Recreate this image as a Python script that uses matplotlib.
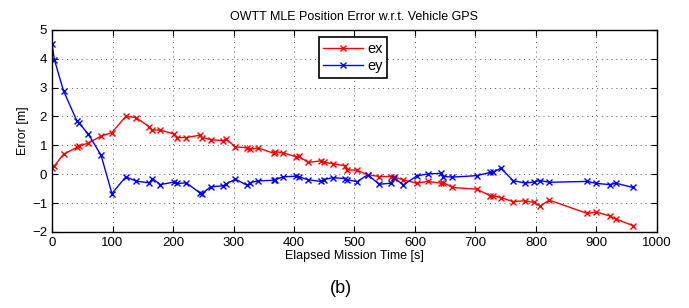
"""OWTT MLE position error plot"""
import matplotlib
matplotlib.use("Agg")
import matplotlib.pyplot as plt

plt.rcParams['font.family'] = ['Liberation Sans', 'DejaVu Sans']

t = [0, 4, 19, 41, 45, 60, 81, 99, 122, 139, 161, 166, 179, 202, 207, 222,
     244, 248, 262, 283, 287, 303, 323, 328, 341, 367, 369, 382, 404, 408,
     423, 444, 449, 464, 484, 488, 504, 522, 541, 561, 566, 581, 603, 621,
     643, 647, 662, 702, 724, 729, 742, 762, 782, 796, 807, 822, 885, 900,
     922, 932, 960]
ex = [0.20, 0.29, 0.69, 0.93, 0.98, 1.08, 1.32, 1.44, 2.01, 1.96, 1.64, 1.53,
      1.53, 1.39, 1.27, 1.27, 1.35, 1.27, 1.20, 1.16, 1.23, 0.95, 0.91, 0.87,
      0.91, 0.72, 0.78, 0.74, 0.60, 0.62, 0.41, 0.46, 0.41, 0.37, 0.29, 0.15,
      0.14, -0.02, -0.08, -0.08, -0.10, -0.20, -0.31, -0.25, -0.31, -0.29,
      -0.46, -0.52, -0.74, -0.74, -0.81, -0.95, -0.92, -0.98, -1.10, -0.90,
      -1.36, -1.31, -1.45, -1.55, -1.78]
ey = [4.51, 3.96, 2.89, 1.85, 1.76, 1.39, 0.66, -0.67, -0.09, -0.24, -0.30,
      -0.15, -0.36, -0.27, -0.32, -0.30, -0.64, -0.67, -0.44, -0.40, -0.35,
      -0.17, -0.39, -0.29, -0.23, -0.21, -0.19, -0.09, -0.07, -0.09, -0.19,
      -0.25, -0.19, -0.12, -0.15, -0.19, -0.26, -0.02, -0.35, -0.31, -0.14,
      -0.37, -0.06, 0.01, 0.03, -0.08, -0.10, -0.05, 0.06, 0.06, 0.21, -0.22,
      -0.31, -0.27, -0.22, -0.28, -0.25, -0.32, -0.36, -0.31, -0.46]

fig = plt.figure(figsize=(6.89, 3.08), dpi=100)
ax = fig.add_axes([0.0755, 0.247, 0.878, 0.656])

ax.plot(t, ex, color='red', marker='x', markersize=5, linewidth=1, label='ex')
ax.plot(t, ey, color='blue', marker='x', markersize=5, linewidth=1, label='ey')

ax.set_xlim(0, 1000)
ax.set_ylim(-2, 5)
ax.set_xticks(range(0, 1001, 100))
ax.set_yticks(range(-2, 6))
ax.grid(True, linestyle=(0, (1, 4)), color='#555555', linewidth=0.7)
ax.tick_params(direction='in', top=True, right=True, labelsize=9.5, length=4)
for s in ax.spines.values():
    s.set_linewidth(1)

ax.set_title('OWTT MLE Position Error w.r.t. Vehicle GPS', fontsize=9, pad=7)
ax.set_xlabel('Elapsed Mission Time [s]', fontsize=9, labelpad=1)
ax.set_ylabel('Error [m]', fontsize=9, labelpad=2)

leg = ax.legend(loc='upper left', bbox_to_anchor=(0.441, 0.963), fontsize=10.5,
                fancybox=False, framealpha=1, borderaxespad=0, numpoints=1,
                handlelength=2.7, handletextpad=0.3, borderpad=0.3,
                labelspacing=0.25)
leg.get_frame().set_edgecolor('black')
leg.get_frame().set_linewidth(1.2)

fig.text(0.495, 0.05, '(b)', ha='center', fontsize=13)

fig.savefig('out.png', dpi=100)
